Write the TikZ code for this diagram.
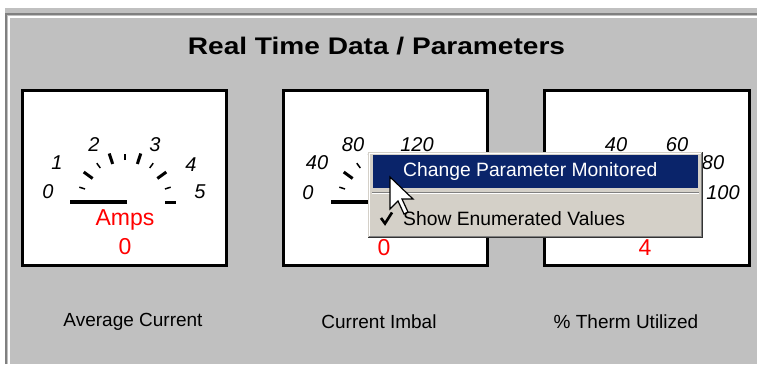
\documentclass[tikz,border=0pt]{standalone}
\usepackage{fontspec}
\setmainfont{Liberation Sans}
\definecolor{wingray}{HTML}{C0C0C0}
\definecolor{menubg}{HTML}{D4D0C8}
\definecolor{navy}{HTML}{0A246A}
\definecolor{dkgray}{HTML}{808080}
\definecolor{redtxt}{HTML}{FF0000}
\begin{document}
\begin{tikzpicture}[x=1pt,y=-1pt,
  gbox/.style={draw=black,line width=3pt,fill=white},
  num/.style={font=\fontsize{20}{20}\selectfont\itshape,inner sep=0pt},
  unit/.style={font=\fontsize{23}{23}\selectfont,text=redtxt,inner sep=0pt},
  caption/.style={font=\fontsize{19}{19}\selectfont,inner sep=0pt},
  menutxt/.style={font=\fontsize{19.3}{19.3}\selectfont,inner sep=0pt,anchor=west},
  minortick/.style={line width=1.5pt},
  majortick/.style={line width=3pt},
  needle/.style={line width=4.5pt}]
\useasboundingbox (0,0) rectangle (757,364);
% window background
\fill[white] (0,0) rectangle (757,364);
\fill[wingray] (5,8) rectangle (757,364);
\draw[dkgray,line width=2pt] (6,364) -- (6,14) -- (757,14);
\draw[white,line width=2pt] (9,364) -- (9,16.5) -- (757,16.5);
% title
\node[font=\fontsize{24}{24}\selectfont\bfseries,inner sep=0pt] (title) at (376.5,46) {\scalebox{1.17}[1]{Real Time Data / Parameters}};
% gauge boxes
\node[gbox,minimum width=204pt,minimum height=175pt,inner sep=0pt] (g1) at (124,177.5) {};
\node[gbox,minimum width=204pt,minimum height=175pt,inner sep=0pt] (g2) at (385,177.5) {};
\node[gbox,minimum width=205pt,minimum height=175pt,inner sep=0pt] (g3) at (646.5,177.5) {};
% ticks for each gauge
\foreach \cx in {125,385,646}{
  \foreach \k in {1,3,5,7,9}{
    \draw[minortick] ({\cx+42*cos(180-18*\k)},{202-42*sin(180-18*\k)}) -- ({\cx+48*cos(180-18*\k)},{202-48*sin(180-18*\k)});
  }
  \foreach \k in {2,4,6,8,10}{
    \draw[majortick] ({\cx+40*cos(180-18*\k)},{202-40*sin(180-18*\k)}) -- ({\cx+51*cos(180-18*\k)},{202-51*sin(180-18*\k)});
  }
}
% needles
\draw[needle] (127,202) -- (70,202);
\draw[needle] (387,202) -- (331,202);
\draw[needle] (648,202) -- (590,202);
% gauge 1 labels
\node[num] (a0) at (48,192) {0};
\node[num] (a1) at (57,163) {1};
\node[num] (a2) at (94,145) {2};
\node[num] (a3) at (155,145) {3};
\node[num] (a4) at (191,165) {4};
\node[num] (a5) at (200,192) {5};
\node[unit] (aunit) at (125,220) {Amps};
\node[unit] (aval) at (125,247) {0};
% gauge 2 labels
\node[num] (b0) at (308,193) {0};
\node[num] (b1) at (317,163) {40};
\node[num] (b2) at (353,145) {80};
\node[num] (b3) at (417,145) {120};
\node[unit] (bval) at (384,248) {0};
% gauge 3 labels
\node[num] (c2) at (616,145) {40};
\node[num] (c3) at (677,145) {60};
\node[num] (c4) at (713,163) {80};
\node[num] (c5) at (723,193) {100};
\node[unit] (cval) at (645,248) {4};
% captions
\node[caption] (cap1) at (133,322) {Average Current};
\node[caption] (cap2) at (379,322) {Current Imbal};
\node[caption] (cap3) at (626,322) {\% Therm Utilized};
% context menu
\fill[menubg] (368,152) rectangle (703,238);
\draw[menubg,line width=1pt] (368.5,238) -- (368.5,152.5) -- (703,152.5);
\draw[white,line width=1pt] (369.5,237) -- (369.5,153.5) -- (702,153.5);
\draw[black!80,line width=1pt] (368,237.5) -- (702.5,237.5) -- (702.5,152);
\draw[dkgray,line width=1pt] (369,236.5) -- (701.5,236.5) -- (701.5,153);
\fill[navy] (373,155) rectangle (698,188);
\node[menutxt,text=white] (chg) at (403,172) {Change Parameter Monitored};
\draw[dkgray,line width=1pt] (372,192.5) -- (699,192.5);
\draw[white,line width=1pt] (372,193.5) -- (699,193.5);
\node[menutxt] (show) at (403,219) {Show Enumerated Values};
\draw[line width=2.6pt] (381,218) -- (385,223.5) -- (392,212.5);
% mouse cursor
\draw[fill=white,line width=1.2pt,line join=miter] (390,177) -- ++(0,32) -- ++(8,-8) -- ++(6,13) -- ++(4,-2) -- ++(-6,-13) -- ++(11,0) -- cycle;
\end{tikzpicture}
\end{document}
